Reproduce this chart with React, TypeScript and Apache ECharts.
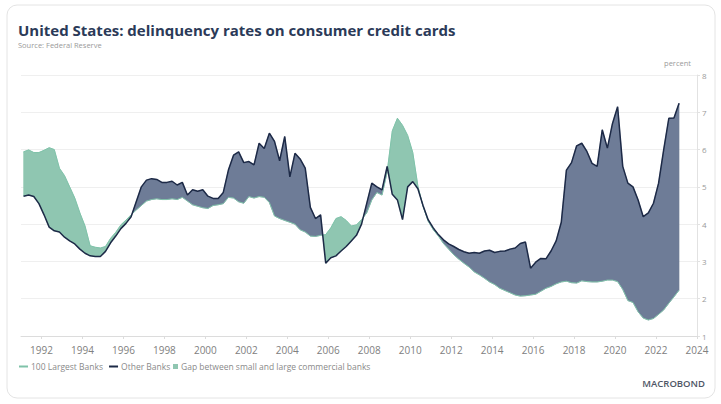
import React, { useEffect, useRef } from "react";
import * as echarts from "echarts";

// Quarterly observations, 1991 Q1 .. 2023 Q1 (percent)
const FIRST_YEAR = 1991;
const largestBanks = [
  5.94, 5.99, 5.92, 5.92, // 1991
  5.98, 6.05, 6.0, 5.5, // 1992
  5.3, 5.0, 4.7, 4.3, // 1993
  3.95, 3.42, 3.38, 3.36, // 1994
  3.4, 3.62, 3.78, 3.98, // 1995
  4.11, 4.25, 4.38, 4.5, // 1996
  4.62, 4.66, 4.68, 4.66, // 1997
  4.66, 4.68, 4.66, 4.72, // 1998
  4.62, 4.52, 4.48, 4.44, // 1999
  4.42, 4.5, 4.52, 4.55, // 2000
  4.72, 4.7, 4.6, 4.56, // 2001
  4.74, 4.7, 4.74, 4.72, // 2002
  4.58, 4.22, 4.15, 4.1, // 2003
  4.05, 4.0, 3.85, 3.79, // 2004
  3.68, 3.67, 3.7, 3.72, // 2005
  3.9, 4.15, 4.2, 4.1, // 2006
  3.95, 3.98, 4.12, 4.3, // 2007
  4.65, 4.85, 4.78, 5.4, // 2008
  6.5, 6.84, 6.65, 6.38, // 2009
  5.92, 5.02, 4.48, 4.08, // 2010
  3.85, 3.68, 3.48, 3.33, // 2011
  3.18, 3.06, 2.95, 2.85, // 2012
  2.72, 2.64, 2.55, 2.45, // 2013
  2.38, 2.28, 2.22, 2.16, // 2014
  2.1, 2.07, 2.08, 2.1, // 2015
  2.12, 2.2, 2.28, 2.33, // 2016
  2.4, 2.45, 2.47, 2.43, // 2017
  2.42, 2.48, 2.46, 2.45, // 2018
  2.45, 2.47, 2.5, 2.5, // 2019
  2.46, 2.25, 1.95, 1.9, // 2020
  1.65, 1.48, 1.43, 1.47, // 2021
  1.58, 1.7, 1.88, 2.05, // 2022
  2.23, // 2023
];
const otherBanks = [
  4.75, 4.78, 4.74, 4.55, // 1991
  4.25, 3.92, 3.82, 3.79, // 1992
  3.65, 3.55, 3.47, 3.33, // 1993
  3.22, 3.15, 3.13, 3.13, // 1994
  3.27, 3.5, 3.68, 3.88, // 1995
  4.02, 4.2, 4.6, 5.0, // 1996
  5.18, 5.22, 5.2, 5.12, // 1997
  5.12, 5.15, 5.05, 5.12, // 1998
  4.78, 4.92, 4.88, 4.92, // 1999
  4.75, 4.69, 4.69, 4.85, // 2000
  5.45, 5.85, 5.94, 5.65, // 2001
  5.68, 5.59, 6.17, 6.03, // 2002
  6.44, 6.22, 5.7, 6.35, // 2003
  5.27, 5.9, 5.75, 5.5, // 2004
  4.45, 4.15, 4.25, 2.95, // 2005
  3.1, 3.15, 3.28, 3.4, // 2006
  3.55, 3.7, 4.0, 4.55, // 2007
  5.1, 5.0, 4.92, 5.55, // 2008
  4.8, 4.65, 4.12, 5.0, // 2009
  5.14, 4.95, 4.5, 4.12, // 2010
  3.9, 3.72, 3.58, 3.47, // 2011
  3.4, 3.32, 3.26, 3.22, // 2012
  3.24, 3.22, 3.28, 3.3, // 2013
  3.24, 3.27, 3.28, 3.33, // 2014
  3.36, 3.48, 3.52, 2.82, // 2015
  2.98, 3.08, 3.07, 3.28, // 2016
  3.55, 4.05, 5.45, 5.65, // 2017
  6.1, 6.17, 5.95, 5.63, // 2018
  5.55, 6.53, 6.04, 6.7, // 2019
  7.15, 5.55, 5.1, 5.0, // 2020
  4.65, 4.2, 4.3, 4.56, // 2021
  5.1, 6.0, 6.84, 6.85, // 2022
  7.24, // 2023
];
const yearTicks = [1992, 1994, 1996, 1998, 2000, 2002, 2004, 2006, 2008, 2010, 2012, 2014, 2016, 2018, 2020, 2022, 2024];

const NAME_A = "100 Largest Banks";
const NAME_B = "Other Banks";
const NAME_GAP = "Gap between small and large commercial banks";

const GREEN_FILL = "#8fc6b1";
const NAVY_FILL = "#6e7c97";
const NAVY_LINE = "#1d2a47";
const GREEN_LINE = "#7fc2a9";
const FONT = "'Open Sans', sans-serif";

type Run = { sign: number; a: number[][]; b: number[][] };

export default function App() {
  const ref = useRef<HTMLDivElement>(null);
  useEffect(() => {
    document.body.style.margin = "0";
    const chart = echarts.init(ref.current!, null, { renderer: "svg" });
    const xOf = (i: number) => FIRST_YEAR + 0.125 + i * 0.25;
    const lineA = largestBanks.map((a, i) => [xOf(i), a]);
    const lineB = otherBanks.map((b, i) => [xOf(i), b]);

    // Split the band between the two series into runs of constant sign
    const runs: Run[] = [];
    const n = largestBanks.length;
    const diff = (i: number) => largestBanks[i] - otherBanks[i];
    let cur: Run = { sign: diff(0) >= 0 ? 1 : -1, a: [lineA[0]], b: [lineB[0]] };
    for (let i = 0; i < n - 1; i++) {
      const d0 = diff(i), d1 = diff(i + 1);
      if (d0 * d1 < 0) {
        const t = d0 / (d0 - d1);
        const xc = xOf(i) + t * (xOf(i + 1) - xOf(i));
        const yc = largestBanks[i] + t * (largestBanks[i + 1] - largestBanks[i]);
        cur.a.push([xc, yc]);
        cur.b.push([xc, yc]);
        runs.push(cur);
        cur = { sign: d1 >= 0 ? 1 : -1, a: [[xc, yc]], b: [[xc, yc]] };
      }
      cur.a.push(lineA[i + 1]);
      cur.b.push(lineB[i + 1]);
    }
    runs.push(cur);
    const runItems = runs.map((r, k) => [k, r.a[0][0], r.a[r.a.length - 1][0]]);

    const renderBand = (_params: any, api: any) => {
      const run = runs[api.value(0)];
      const pts = run.a.concat(run.b.slice().reverse()).map((p) => api.coord(p));
      const color = run.sign > 0 ? GREEN_FILL : NAVY_FILL;
      return {
        type: "polygon",
        shape: { points: pts },
        style: { fill: color, stroke: color, lineWidth: 0.5 },
      };
    };

    chart.setOption({
      animation: false,
      backgroundColor: "#ffffff",
      textStyle: { fontFamily: FONT },
      grid: { left: 21, right: 24, top: 75, bottom: 68, containLabel: false },
      title: {
        text: "United States: delinquency rates on consumer credit cards",
        subtext: "Source: Federal Reserve",
        left: 13,
        top: 17,
        itemGap: 4,
        textStyle: { fontFamily: FONT, fontSize: 15, fontWeight: 700, color: "#2b3a58" },
        subtextStyle: { fontFamily: FONT, fontSize: 7.5, color: "#9a9a9a" },
      },
      legend: [
        {
          left: 14,
          top: 357,
          icon: "rect",
          itemWidth: 9,
          itemHeight: 2,
          itemGap: 6,
          textStyle: { fontFamily: FONT, fontSize: 8.5, color: "#8a8a8a", padding: [0, 0, 0, -2] },
          data: [{ name: NAME_A }, { name: NAME_B }],
        },
        {
          left: 168,
          top: 357,
          icon: "rect",
          itemWidth: 5,
          itemHeight: 5,
          textStyle: { fontFamily: FONT, fontSize: 8.5, color: "#8a8a8a", padding: [0, 0, 0, -2] },
          data: [{ name: NAME_GAP, itemStyle: { color: GREEN_FILL } }],
        },
      ],
      xAxis: {
        type: "value",
        min: 1991,
        max: 2024,
        axisLine: { show: true, lineStyle: { color: "#dcdcdc" } },
        axisTick: { show: true, customValues: yearTicks, length: 3, lineStyle: { color: "#dcdcdc" } },
        axisLabel: {
          customValues: yearTicks,
          color: "#808080",
          fontSize: 10,
          margin: 9,
          fontFamily: FONT,
          formatter: (v: number) => String(v),
        },
        splitLine: { show: false },
      },
      yAxis: {
        type: "value",
        position: "right",
        min: 1,
        max: 8,
        interval: 1,
        name: "percent",
        nameLocation: "end",
        nameGap: 8,
        nameTextStyle: { color: "#9a9a9a", fontSize: 7.5, align: "right", padding: [0, 6, 0, 0], fontFamily: FONT },
        axisLine: { show: true, lineStyle: { color: "#e2e2e2" } },
        axisTick: { show: true, length: 3, lineStyle: { color: "#e2e2e2" } },
        axisLabel: { color: "#9a9a9a", fontSize: 8, margin: 5, fontFamily: FONT },
        splitLine: { show: true, lineStyle: { color: "#efefef" } },
      },
      series: [
        {
          name: NAME_GAP,
          type: "custom",
          renderItem: renderBand,
          encode: { x: [1, 2] },
          data: runItems,
          itemStyle: { color: GREEN_FILL },
          z: 1,
          silent: true,
        },
        {
          name: NAME_A,
          type: "line",
          data: lineA,
          symbol: "none",
          itemStyle: { color: GREEN_LINE },
          lineStyle: { color: GREEN_LINE, width: 1 },
          z: 3,
        },
        {
          name: NAME_B,
          type: "line",
          data: lineB,
          symbol: "none",
          itemStyle: { color: NAVY_LINE },
          lineStyle: { color: NAVY_LINE, width: 1.5 },
          z: 4,
        },
      ],
      graphic: [
        {
          type: "rect",
          shape: { x: 7, y: 5, width: 708, height: 393, r: 10 },
          style: { fill: "none", stroke: "#e4e4e4", lineWidth: 1 },
          z: -1,
          silent: true,
        },
        {
          type: "text",
          right: 16,
          top: 378,
          style: { text: "MACROBOND", fontFamily: FONT, fontSize: 9.5, fontWeight: 600, fill: "#4f5666" },
        },
      ],
    });
    return () => chart.dispose();
  }, []);
  return <div ref={ref} style={{ width: 721, height: 404 }} />;
}
